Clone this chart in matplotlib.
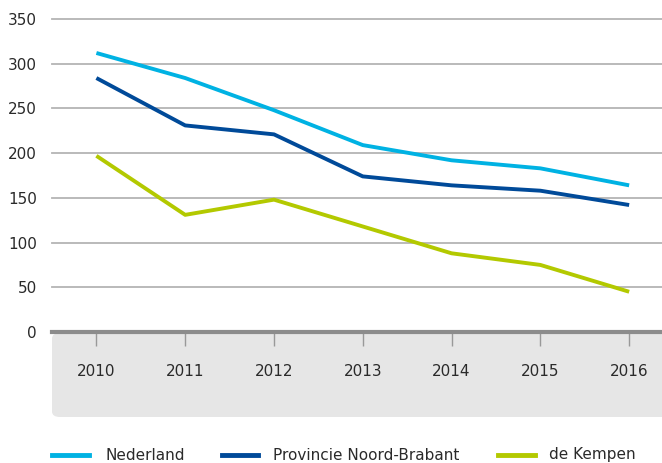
import matplotlib.pyplot as plt
from matplotlib.patches import FancyBboxPatch
from matplotlib.lines import Line2D

years = ['2010', '2011', '2012', '2013', '2014', '2015', '2016']
nederland = [312, 284, 248, 209, 192, 183, 164]
brabant = [284, 231, 221, 174, 164, 158, 142]
kempen = [197, 131, 148, 118, 88, 75, 45]
yticks = [0, 50, 100, 150, 200, 250, 300, 350]
series_names = ['Nederland', 'Provincie Noord-Brabant', 'de Kempen']

c_ned = '#00b2e3'
c_nb = '#004a99'
c_kem = '#b3c900'

plt.rcParams['font.family'] = ['Liberation Sans Narrow', 'DejaVu Sans']

fig = plt.figure(figsize=(6.62, 4.63), dpi=100)
W, H = 662, 463

# grey band below the axis
band = FancyBboxPatch((52 / W, (H - 417) / H), (662 - 52) / W + 0.05, (417 - 333) / H,
                      boxstyle='round,pad=0,rounding_size=0.012',
                      transform=fig.transFigure, facecolor='#e6e6e6',
                      edgecolor='none', zorder=0)
fig.patches.append(band)

ax = fig.add_axes([52 / W, (H - 332) / H, (662 - 52) / W, 313 / H])
ax.set_zorder(2)
ax.set_facecolor('none')
x = range(len(years))
ax.plot(x, nederland, color=c_ned, lw=2.8, solid_capstyle='butt', zorder=3)
ax.plot(x, brabant, color=c_nb, lw=2.8, solid_capstyle='butt', zorder=3)
ax.plot(x, kempen, color=c_kem, lw=2.8, solid_capstyle='butt', zorder=3)

ax.set_ylim(0, 350)
ax.set_xlim(-0.5, 6.37)
ax.set_yticks(yticks)
ax.set_yticklabels([str(v) for v in yticks], fontsize=11, color='#2a2a2a')
ax.tick_params(axis='y', length=0, pad=11)
for v in yticks[1:]:
    ax.axhline(v, color='#b4b4b4', lw=1.3, zorder=1, clip_on=False)
ax.axhline(0, color='#8c8c8c', lw=3.0, zorder=2, clip_on=False)

ax.set_xticks(list(x))
ax.set_xticklabels(years, fontsize=11, color='#2a2a2a')
ax.tick_params(axis='x', direction='out', length=10, width=1, color='#999999', pad=13)
for s in ax.spines.values():
    s.set_visible(False)

# legend drawn by hand
leg_y = 1 - 455 / H
for (x0, x1, tx), name, c in zip([(52, 89, 105), (222, 258, 273), (498, 535, 549)],
                                 series_names, (c_ned, c_nb, c_kem)):
    fig.add_artist(Line2D([x0 / W, x1 / W], [leg_y, leg_y], color=c, lw=3.5,
                          transform=fig.transFigure))
    fig.text(tx / W, leg_y, name, fontsize=11, color='#2a2a2a',
             va='center', ha='left')

fig.savefig('out.png', dpi=100)
